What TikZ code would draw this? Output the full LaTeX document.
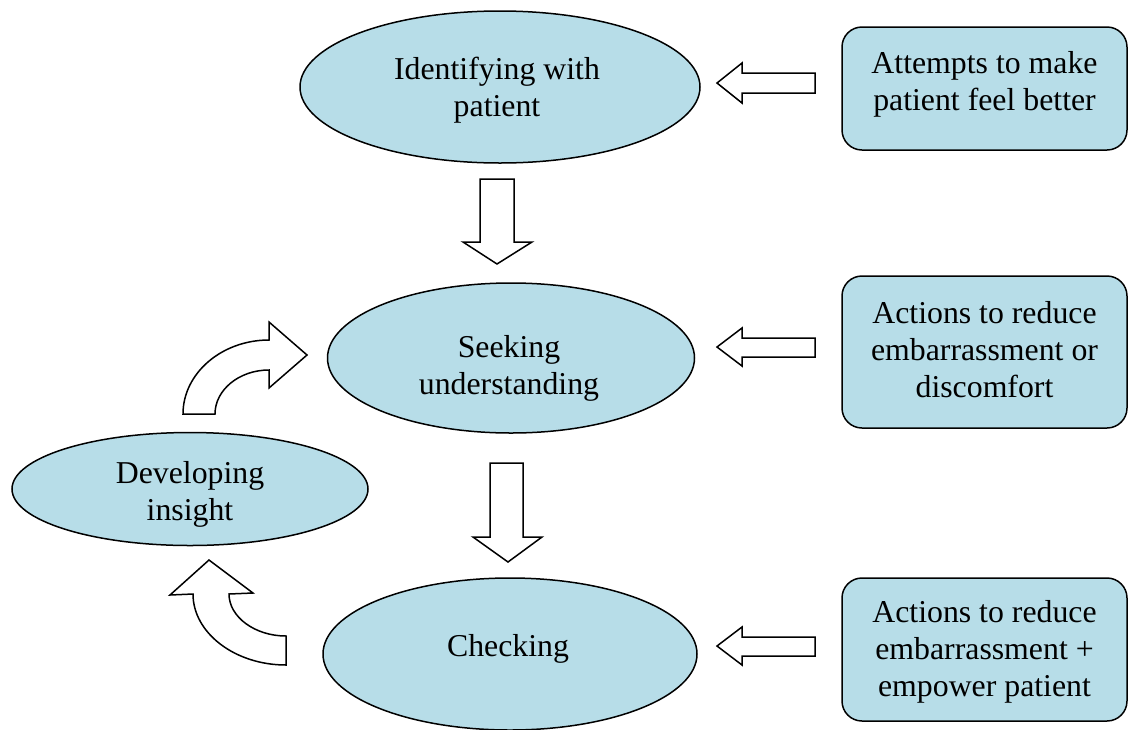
\documentclass[tikz,border=0pt]{standalone}
\usepackage{fontspec}
\setmainfont{Liberation Serif}
\usetikzlibrary{shapes.geometric}
\definecolor{aqua}{RGB}{183,221,232}
\tikzset{
  stage/.style={ellipse, draw=black, line width=1.5pt, fill=aqua, inner sep=0pt, outer sep=0pt},
  actbox/.style={rectangle, rounded corners=20pt, draw=black, line width=1.5pt, fill=aqua,
    minimum width=285pt, inner sep=0pt},
  lbl/.style={align=center, font=\fontsize{31.8}{37}\selectfont, inner sep=0pt},
  blockarrow/.style={draw=black, line width=1.5pt, fill=white, line join=miter}
}
\begin{document}
\begin{tikzpicture}[x=1pt,y=-1pt]
\useasboundingbox (0,0) rectangle (1129,729);
\fill[white] (0,0) rectangle (1129,729);
\begin{scope}
\clip (0,0) rectangle (1129,729);
% stages
\node[stage, minimum width=400pt, minimum height=152pt] (ident) at (500,87) {};
\node[lbl] at (497,90) {Identifying with\\patient};
\node[stage, minimum width=367pt, minimum height=150pt] (seek) at (511,358) {};
\node[lbl] at (509,368) {Seeking\\understanding};
\node[stage, minimum width=356pt, minimum height=113pt] (insight) at (190,489) {};
\node[lbl] at (190,494) {Developing\\insight};
\node[stage, minimum width=374pt, minimum height=152pt] (check) at (510,654) {};
\node[lbl] at (508,649) {Checking};
% action boxes
\node[actbox, minimum height=123pt] (a1) at (984.5,88.5) {};
\node[lbl] at (984.5,84.5) {Attempts to make\\patient feel better};
\node[actbox, minimum height=152pt] (a2) at (984.5,352) {};
\node[lbl] at (984.5,350) {Actions to reduce\\embarrassment or\\discomfort};
\node[actbox, minimum height=143pt] (a3) at (984.5,649.5) {};
\node[lbl] at (984.5,651.5) {Actions to reduce\\embarrassment +\\empower patient};
\end{scope}
% left block arrows
\draw[blockarrow] (717,83) -- (742,63) -- (742,73) -- (815,73) -- (815,93) -- (742,93) -- (742,103) -- cycle;
\draw[blockarrow] (717,347) -- (742,328) -- (742,338) -- (815,338) -- (815,357) -- (742,357) -- (742,366) -- cycle;
\draw[blockarrow] (717,646) -- (742,627) -- (742,637) -- (815,637) -- (815,656) -- (742,656) -- (742,665) -- cycle;
% down block arrows
\draw[blockarrow] (497,264) -- (463,242) -- (480,242) -- (480,179) -- (514,179) -- (514,242) -- (532,242) -- cycle;
\draw[blockarrow] (508,562) -- (473,537) -- (490,537) -- (490,463) -- (523,463) -- (523,537) -- (542,537) -- cycle;
% curved arrow up-right
\draw[blockarrow] (183,414) .. controls (183,373) and (222,340) .. (269,340)
  -- (269,322) -- (307,355) -- (269,388) -- (269,370)
  .. controls (239,370) and (215,390) .. (215,414) -- cycle;
% curved arrow up-left
\draw[blockarrow] (193,594) .. controls (193,633) and (235,665) .. (286,665)
  -- (286,636) .. controls (255,636) and (229,617) .. (229,594)
  -- (253,593) -- (209,560) -- (170,595) -- cycle;
\end{tikzpicture}
\end{document}
